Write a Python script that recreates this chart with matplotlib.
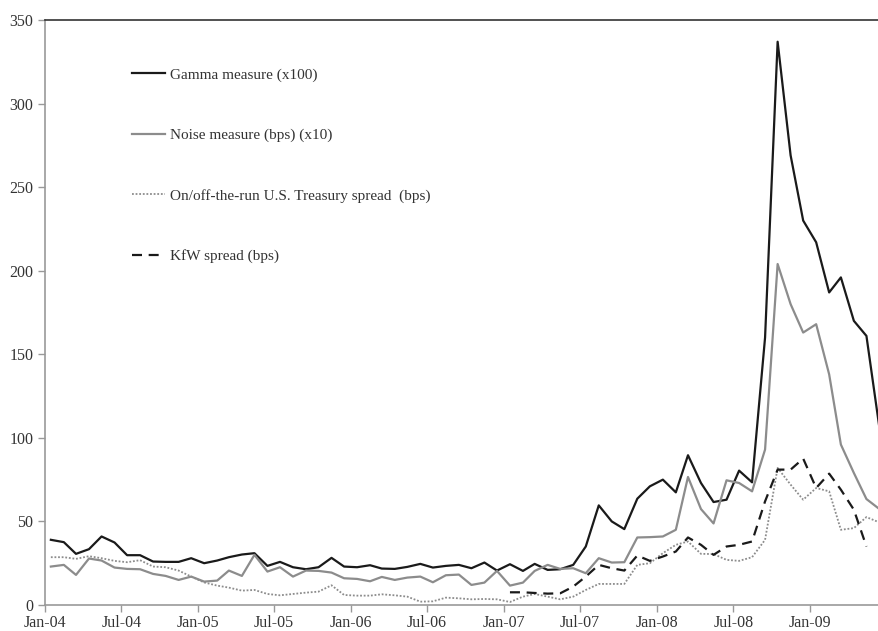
import matplotlib
matplotlib.use("Agg")
import matplotlib.pyplot as plt
import matplotlib.dates as mdates
import pandas as pd

plt.rcParams['font.family'] = ['Liberation Serif', 'DejaVu Serif']

# monthly observations, Jan-04 .. Jun-09 (plotted mid-month)
months = pd.date_range("2004-01-01", periods=66, freq="MS") + pd.Timedelta(days=14)

gamma = [39.0, 37.6, 30.6, 33.4, 41.0, 37.4, 29.8, 29.8, 26.0, 25.8, 25.8, 28.0,
         25.0, 26.6, 28.6, 30.2, 31.0, 23.4, 25.8, 22.6, 21.4, 22.6, 28.2, 23.0,
         22.6, 23.8, 21.8, 21.6, 22.8, 24.6, 22.4, 23.4, 24.0, 22.0, 25.4, 20.6,
         24.4, 20.4, 24.6, 21.0, 21.4, 24.0, 35.0, 59.6, 50.0, 45.4, 63.6, 71.0,
         75.0, 67.4, 89.6, 73.0, 61.6, 63.0, 80.4, 73.4, 160, 337, 269, 230,
         217, 187, 196, 170, 161, 106]

noise = [23.0, 24.0, 18.0, 27.8, 26.6, 22.4, 21.6, 21.4, 18.6, 17.4, 15.0, 17.0,
         14.0, 14.6, 20.6, 17.4, 30.0, 20.0, 22.6, 17.0, 20.6, 20.4, 19.4, 16.0,
         15.6, 14.2, 16.8, 15.0, 16.4, 17.0, 13.6, 17.8, 18.2, 12.0, 13.4, 20.4,
         11.6, 13.4, 20.4, 24.0, 21.6, 22.0, 19.0, 28.0, 25.4, 25.6, 40.4, 40.6,
         41.0, 45.0, 76.6, 57.4, 48.8, 74.6, 73.0, 68.0, 93.0, 204, 180, 163,
         168, 138, 96, 79, 63.4, 57.4]

treasury = [28.6, 28.6, 27.6, 29.2, 28.0, 26.4, 25.6, 26.8, 23.0, 22.6, 20.6, 17.0,
            13.5, 11.6, 10.4, 8.6, 9.0, 6.6, 5.8, 6.6, 7.4, 8.0, 11.8, 6.0,
            5.6, 5.6, 6.4, 5.8, 5.0, 2.0, 2.2, 4.4, 4.0, 3.4, 3.6, 3.4,
            1.8, 5.0, 6.6, 5.0, 3.4, 5.0, 9.0, 12.6, 12.6, 12.6, 24.0, 25.0,
            31.0, 36.0, 38.0, 30.6, 30.5, 27.0, 26.4, 28.6, 39.0, 82.0, 72.0, 63.0,
            70.0, 68.0, 45.0, 46.0, 52.6, 49.4]

# KfW spread available Jan-07 .. May-09
kfw_start = 36
kfw = [7.6, 7.6, 7.2, 6.8, 7.0, 11.0, 17.0, 24.0, 22.0, 20.6, 29.6, 26.4,
       29.0, 32.0, 40.4, 36.0, 30.0, 35.0, 36.0, 38.0, 62.0, 81.0, 81.0, 87.6,
       70.0, 78.6, 69.0, 57.0, 35.0]
kfw_months = months[kfw_start:kfw_start + len(kfw)]

fig = plt.figure(figsize=(8.79, 6.31), dpi=100)
ax = fig.add_axes([45 / 879, 26 / 631, 834 / 879, 585 / 631])

ax.plot(months, gamma, color='#1a1a1a', lw=1.6, label='Gamma measure (x100)')
ax.plot(months, noise, color='#8c8c8c', lw=1.6, label='Noise measure (bps) (x10)')
ax.plot(months, treasury, color='#8c8c8c', lw=1.3, linestyle=(0, (1, 1)),
        label='On/off-the-run U.S. Treasury spread  (bps)')
ax.plot(kfw_months, kfw, color='#1a1a1a', lw=1.6, linestyle=(0, (4.5, 3)),
        label='KfW spread (bps)')

ax.set_ylim(0, 350)
ax.set_yticks(range(0, 351, 50))
ax.set_xlim(pd.Timestamp("2004-01-01"), pd.Timestamp("2009-06-14"))
ax.xaxis.set_major_locator(mdates.MonthLocator(bymonth=[1, 7]))
ax.xaxis.set_major_formatter(mdates.DateFormatter('%b-%y'))

for side in ['left', 'bottom']:
    ax.spines[side].set_color('#999999')
    ax.spines[side].set_linewidth(1.2)
ax.spines['top'].set_color('#333333')
ax.spines['top'].set_linewidth(1.2)
ax.spines['right'].set_visible(False)
ax.tick_params(axis='both', colors='#999999', labelcolor='#333333',
               labelsize=11.5, length=5, width=1)
ax.tick_params(axis='x', pad=2)

ax.legend(loc='upper left', bbox_to_anchor=(0.104, 0.918), frameon=False,
          fontsize=11, labelspacing=3.05, handlelength=2.2, handletextpad=0.3,
          borderpad=0, borderaxespad=0, labelcolor='#333333')

fig.savefig('out.png', dpi=100)
